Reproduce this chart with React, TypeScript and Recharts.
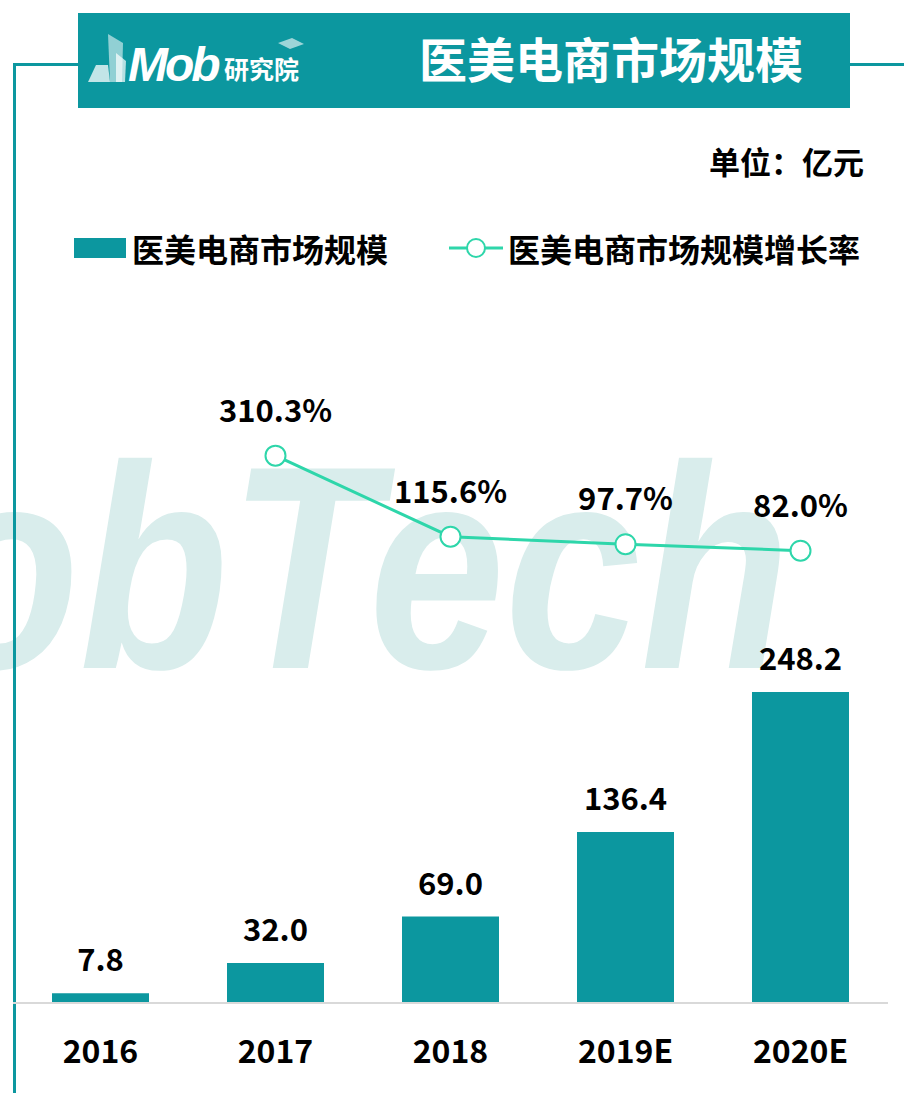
import { ComposedChart, Bar, Line, XAxis, YAxis, LabelList } from "recharts";

const TEAL = "#0C979F";
const MINT = "#2ED6AA";
const FONT = '"Noto Sans CJK SC", "Noto Sans", sans-serif';

const years = ["2016", "2017", "2018", "2019E", "2020E"];
const marketSize = [7.8, 32.0, 69.0, 136.4, 248.2];
const growthRate = [null, 310.3, 115.6, 97.7, 82.0];

const data = years.map((year, i) => ({
  year,
  size: marketSize[i],
  rate: growthRate[i],
}));

const RateDot = (props: any) => {
  const { cx, cy, value } = props;
  if (value == null || cx == null || cy == null) return <g />;
  return <circle cx={cx} cy={cy} r={10} fill="#fff" stroke={MINT} strokeWidth={2} />;
};

const YearTick = ({ x, y, payload }: any) => (
  <text x={x} y={y + 52} textAnchor="middle" fontSize={32} fontWeight={700} fill="#000" fontFamily={FONT}>
    {payload.value}
  </text>
);

function Watermark() {
  return (
    <svg width={904} height={1093} style={{ position: "absolute", left: 0, top: 0 }}>
      <text
        x={-70}
        y={668}
        fontSize={290}
        fontWeight={700}
        fontStyle="italic"
        fill="#D9EDEC"
        fontFamily='"Liberation Sans Narrow", "Liberation Sans", sans-serif'
        textLength={860}
        lengthAdjust="spacingAndGlyphs"
      >
        obTech
      </text>
    </svg>
  );
}

function Header() {
  return (
    <>
      <div style={{ position: "absolute", left: 13, top: 63, width: 65, height: 3, background: TEAL }} />
      <div style={{ position: "absolute", left: 850, top: 63, width: 54, height: 3, background: TEAL }} />
      <div style={{ position: "absolute", left: 13, top: 63, width: 3, height: 1030, background: TEAL }} />
      <div style={{ position: "absolute", left: 78, top: 13, width: 772, height: 95, background: TEAL }}>
        <svg width={240} height={95} style={{ position: "absolute", left: 0, top: 0 }}>
          <polygon points="18,52 30,52 32,69 10,69" fill="#fff" opacity={0.75} />
          <polygon points="30,21 45,30 44,69 32,69" fill="#fff" opacity={0.55} />
          <polygon points="38,40 48,48 47,69 38,69" fill="#fff" opacity={0.7} />
          <text x={50} y={68} fontSize={48} fontStyle="italic" fontWeight={700} fill="#fff" fontFamily='"Liberation Sans", sans-serif' letterSpacing={-3}>
            Mob
          </text>
          <text x={146} y={66} fontSize={25} fontWeight={700} fill="#fff" fontFamily={FONT}>
            研究院
          </text>
          <polygon points="200,30 214,25 226,31 212,36" fill="#fff" opacity={0.6} />
        </svg>
        <div
          style={{
            position: "absolute",
            left: 341,
            top: 13,
            fontSize: 48,
            fontWeight: 700,
            color: "#fff",
            fontFamily: FONT,
            lineHeight: "62px",
            whiteSpace: "nowrap",
          }}
        >
          医美电商市场规模
        </div>
      </div>
      <div
        style={{
          position: "absolute",
          right: 40,
          top: 141,
          fontSize: 31,
          fontWeight: 700,
          color: "#000",
          fontFamily: FONT,
          lineHeight: "40px",
          whiteSpace: "nowrap",
        }}
      >
        单位：亿元
      </div>
    </>
  );
}

function ChartLegend() {
  const textStyle = {
    position: "absolute" as const,
    top: 227,
    fontSize: 32,
    fontWeight: 700,
    color: "#000",
    fontFamily: FONT,
    lineHeight: "42px",
    whiteSpace: "nowrap" as const,
  };
  return (
    <>
      <div style={{ position: "absolute", left: 74, top: 238, width: 52, height: 20, background: TEAL }} />
      <div style={{ ...textStyle, left: 132 }}>医美电商市场规模</div>
      <svg width={56} height={30} style={{ position: "absolute", left: 448, top: 233 }}>
        <line x1={1} y1={15} x2={55} y2={15} stroke={MINT} strokeWidth={3} />
        <circle cx={28} cy={15} r={9} fill="#fff" stroke={MINT} strokeWidth={2} />
      </svg>
      <div style={{ ...textStyle, left: 508 }}>医美电商市场规模增长率</div>
    </>
  );
}

export default function App() {
  return (
    <div style={{ position: "fixed", left: 0, top: 0, width: 904, height: 1093, background: "#fff", overflow: "hidden" }}>
      <Watermark />
      <Header />
      <ChartLegend />
      <div style={{ position: "absolute", left: 0, top: 0 }}>
        <ComposedChart
          width={904}
          height={1093}
          data={data}
          margin={{ top: 300, right: 16, bottom: 30, left: 13 }}
        >
          <XAxis
            dataKey="year"
            axisLine={{ stroke: "#D9D9D9", strokeWidth: 2 }}
            tickLine={false}
            height={60}
            tick={<YearTick />}
            interval={0}
          />
          <YAxis yAxisId="size" hide domain={[0, 561]} />
          <YAxis yAxisId="rate" hide domain={[-1004, 684]} orientation="right" />
          <Bar yAxisId="size" dataKey="size" fill={TEAL} barSize={97} isAnimationActive={false}>
            <LabelList
              dataKey="size"
              position="top"
              offset={22}
              fontSize={31}
              fontWeight={700}
              fill="#000"
              fontFamily={FONT}
              formatter={(v: any) => Number(v).toFixed(1)}
            />
          </Bar>
          <Line
            yAxisId="rate"
            dataKey="rate"
            stroke={MINT}
            strokeWidth={3}
            dot={<RateDot />}
            activeDot={false}
            connectNulls={false}
            isAnimationActive={false}
          >
            <LabelList
              dataKey="rate"
              position="top"
              offset={34}
              fontSize={31}
              fontWeight={700}
              fill="#000"
              fontFamily={FONT}
              formatter={(v: any) => (v == null ? "" : `${Number(v).toFixed(1)}%`)}
            />
          </Line>
        </ComposedChart>
      </div>
    </div>
  );
}
